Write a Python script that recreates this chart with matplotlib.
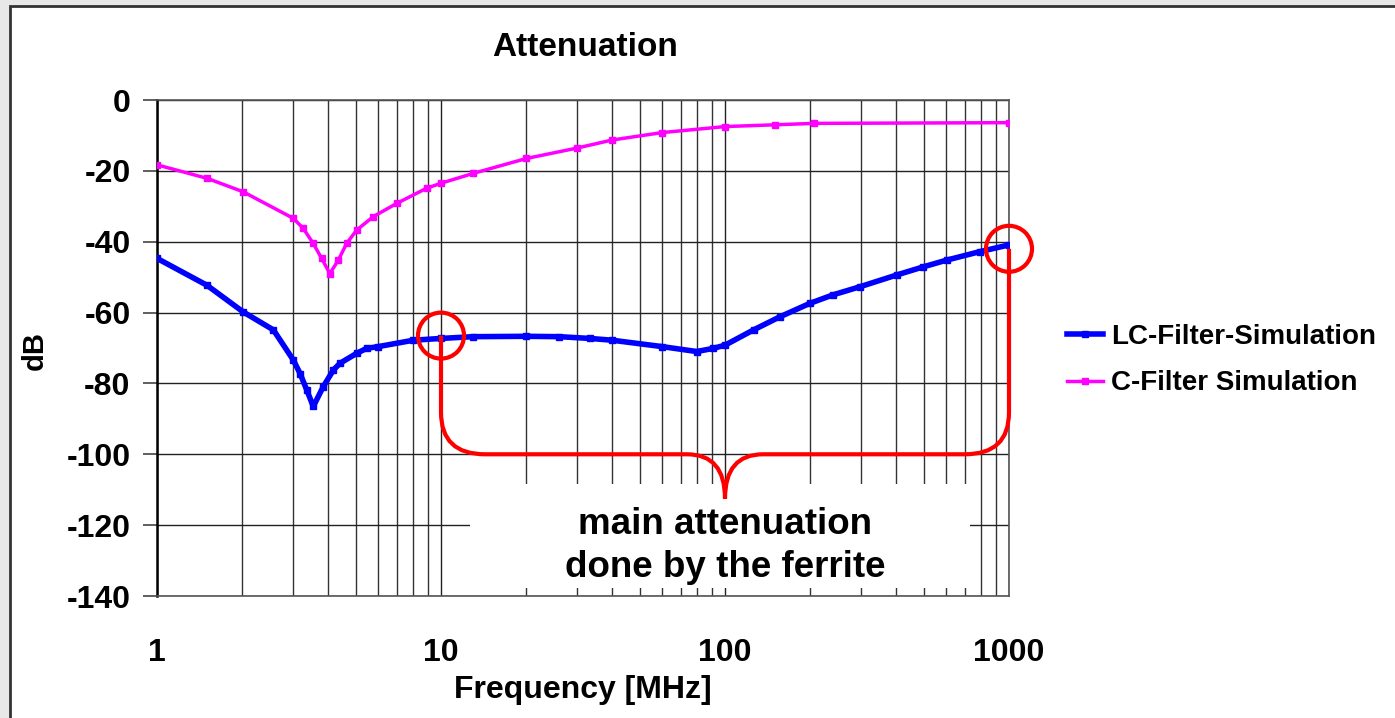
import numpy as np
import matplotlib
matplotlib.use("Agg")
import matplotlib.pyplot as plt
from matplotlib.patches import Rectangle, Ellipse, PathPatch
from matplotlib.path import Path
from matplotlib.ticker import NullFormatter, LogLocator

plt.rcParams['font.family'] = ['Liberation Sans', 'DejaVu Sans']
plt.rcParams['font.weight'] = 'bold'

# ---- data ----
lc_freq = [1, 1.5, 2.01, 2.57, 3.02, 3.19, 3.37, 3.55, 3.85, 4.18, 4.41, 5.05, 5.47, 6.02,
           8.0, 10, 13, 20, 26, 33.5, 40, 60, 79.5, 91, 100, 126, 156, 199, 240, 299,
           402, 499, 603, 790, 1000]
lc_db = [-44.7, -52.3, -59.8, -64.9, -73.4, -77.2, -81.9, -86.5, -80.9, -76.2, -74.3,
         -71.5, -70.1, -69.6, -67.8, -67.3, -66.8, -66.7, -66.8, -67.3, -67.8, -69.6,
         -71.0, -70.1, -69.2, -64.9, -61.2, -57.4, -55.0, -52.7, -49.4, -47.1, -45.2,
         -42.8, -40.9]
c_freq = [1, 1.5, 2.01, 3.02, 3.27, 3.55, 3.8, 4.06, 4.35, 4.65, 5.05, 5.78, 6.98, 8.9,
          10, 13, 20, 30, 40, 60, 100, 150, 205, 1000]
c_db = [-18.3, -22.1, -25.9, -33.4, -36.2, -40.5, -44.7, -49.0, -45.2, -40.5, -36.7,
        -32.9, -29.2, -24.9, -23.5, -20.7, -16.5, -13.6, -11.3, -9.2, -7.5, -7.0, -6.6,
        -6.4]
series_names = ["LC-Filter-Simulation", "C-Filter Simulation"]
y_ticks = [0, -20, -40, -60, -80, -100, -120, -140]
x_ticks = [1, 10, 100, 1000]
x_ticklabels = ["1", "10", "100", "1000"]
title = "Attenuation"
x_label = "Frequency [MHz]"
y_label = "dB"
note = "main attenuation\ndone by the ferrite"
# annotation anchors (freq, dB)
mark_left = (10, -66.5)
mark_right = (1000, -42)
brace_y = -100
brace_tip = (100, -112.5)

W, H = 1395, 718
fig = plt.figure(figsize=(W / 100, H / 100), dpi=100)
fig.patch.set_facecolor('#e8e8e8')
fig.add_artist(Rectangle((10 / W, -0.05), 1.1, 1 - 6 / H + 0.05, transform=fig.transFigure,
                         facecolor='white', edgecolor='#333333', lw=2, clip_on=False,
                         zorder=-10))

L, R, T, B = 157, 1009, 100, 596
ax = fig.add_axes([L / W, 1 - B / H, (R - L) / W, (B - T) / H])
ax.set_xscale('log')
ax.set_xlim(1, 1000)
ax.set_ylim(-140, 0)

ax.set_yticks(y_ticks)
ax.set_yticklabels([str(v) for v in y_ticks], fontsize=23, fontweight='bold')
ax.set_xticks(x_ticks)
ax.set_xticklabels(x_ticklabels, fontsize=23, fontweight='bold')
ax.xaxis.set_minor_locator(LogLocator(base=10, subs=np.arange(2, 10)))
ax.xaxis.set_minor_formatter(NullFormatter())
ax.tick_params(axis='y', direction='out', length=10, width=1.2, color='#444444', pad=9)
ax.tick_params(axis='x', which='both', length=0, pad=30)
ax.grid(True, which='major', axis='both', color='#222222', lw=1.0)
ax.grid(True, which='minor', axis='x', color='#333333', lw=1.0)
ax.set_axisbelow(True)
for s in ['top', 'right', 'bottom']:
    ax.spines[s].set_color('#555555')
    ax.spines[s].set_linewidth(1.2)
ax.spines['left'].set_color('black')
ax.spines['left'].set_linewidth(1.8)

ax.plot(lc_freq, lc_db, color='#0000ff', lw=4, marker='s', markersize=4,
        label=series_names[0], zorder=4)
ax.plot(c_freq, c_db, color='#ff00ff', lw=2.5, marker='s', markersize=4.5,
        label=series_names[1], zorder=4)


def to_ax(f, v):
    return np.log10(f) / 3.0, (v + 140) / 140.0


# white note box covering the grid
ax.add_patch(Rectangle(((470 - L) / (R - L), (B - 588) / (B - T)),
                       (970 - 470) / (R - L), (588 - 484) / (B - T),
                       transform=ax.transAxes, facecolor='white', edgecolor='none', zorder=3))
ax.text(to_ax(brace_tip[0], 0)[0], (B - 546) / (B - T), note,
        transform=ax.transAxes, ha='center', va='center', fontsize=26.5, fontweight='bold',
        linespacing=1.32, zorder=5)

# red brace
xl, yl = to_ax(*mark_left)
xr, yr = to_ax(*mark_right)
_, yb = to_ax(1, brace_y)
xt, yt = to_ax(*brace_tip)
rx, ry = 44 / (R - L), 42 / (B - T)
sx = 38 / (R - L)
verts = [(xl, yl), (xl, yb + ry), (xl, yb), (xl + rx, yb),
         (xt - sx, yb), (xt, yb), (xt, yt),
         (xt, yb), (xt + sx, yb),
         (xr - rx, yb), (xr, yb), (xr, yb + ry), (xr, yr)]
codes = [Path.MOVETO, Path.LINETO, Path.CURVE3, Path.CURVE3,
         Path.LINETO, Path.CURVE3, Path.CURVE3,
         Path.CURVE3, Path.CURVE3,
         Path.LINETO, Path.CURVE3, Path.CURVE3, Path.LINETO]
ax.add_patch(PathPatch(Path(verts, codes), transform=ax.transAxes, facecolor='none',
                       edgecolor='#ff0000', lw=3, zorder=6, clip_on=False))
for (x0, y0) in [(xl, yl), (xr, yr)]:
    ax.add_patch(Ellipse((x0, y0), 46 / (R - L), 46 / (B - T), transform=ax.transAxes,
                         facecolor='none', edgecolor='#ff0000', lw=3, zorder=6, clip_on=False))

fig.text(585 / W, 1 - 48 / H, title, ha='center', va='center', fontsize=24, fontweight='bold')
fig.text(583 / W, 1 - 690 / H, x_label, ha='center', va='center', fontsize=23, fontweight='bold')
fig.text(35 / W, 1 - 350 / H, y_label, ha='center', va='center', fontsize=21,
         fontweight='bold', rotation=90)

fig.legend(loc='center left', bbox_to_anchor=(1042 / W, 1 - 360 / H), frameon=False,
           prop={'size': 20, 'weight': 'bold'}, handlelength=1.3, handletextpad=0.3,
           labelspacing=0.75)

fig.savefig('out.png', dpi=100, facecolor=fig.get_facecolor())
